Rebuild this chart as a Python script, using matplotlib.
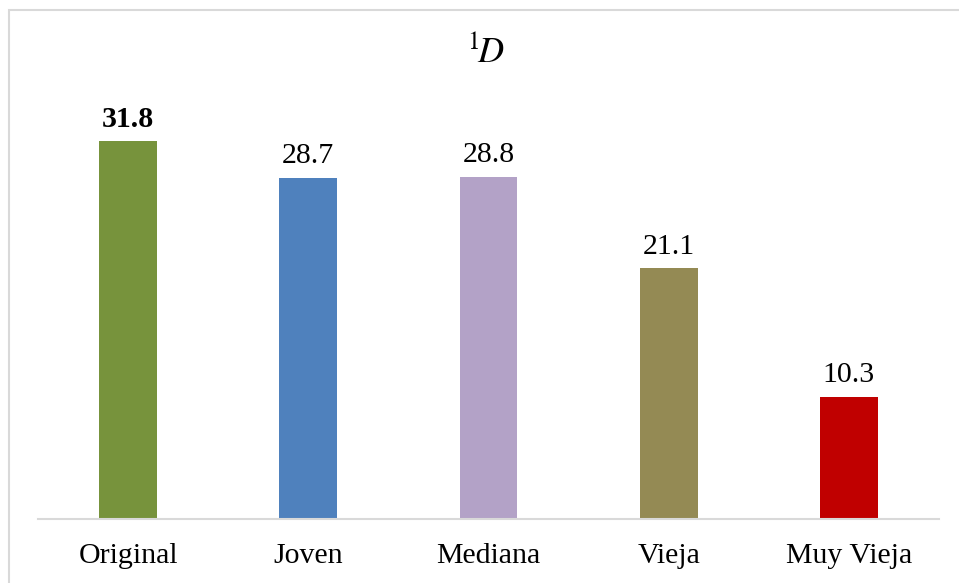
import matplotlib.pyplot as plt
from matplotlib.patches import Rectangle

categories = ['Original', 'Joven', 'Mediana', 'Vieja', 'Muy Vieja']
values = [31.8, 28.7, 28.8, 21.1, 10.3]
colors = ['#77933c', '#4f81bd', '#b3a2c7', '#948a54', '#c00000']

plt.rcParams['font.family'] = ['Liberation Serif', 'DejaVu Serif']

W, H = 959, 583
fig = plt.figure(figsize=(W / 100, H / 100), dpi=100)

# light grey frame around the chart area
fig.add_artist(Rectangle((9 / W, -0.05), 1.2, 1 - 10 / H + 0.05,
                         transform=fig.transFigure, fill=False,
                         edgecolor='#d9d9d9', linewidth=1.5))

ax = fig.add_axes([38 / W, (H - 519) / H, (939 - 38) / W, (519 - 91) / H])
x = range(len(categories))
ax.bar(x, values, width=0.32, color=colors)
ax.set_xlim(-0.5, len(categories) - 0.5)
ax.set_ylim(0, 36)

for i, v in enumerate(values):
    ax.text(i, v + 0.7, f'{v:.1f}', ha='center', va='bottom', fontsize=21.5,
            fontweight='bold' if i == 0 else 'normal')

ax.set_xticks(list(x))
ax.set_xticklabels(categories, fontsize=21.5)
ax.tick_params(axis='x', length=0, pad=17)
ax.set_yticks([])
for side in ['top', 'right', 'left']:
    ax.spines[side].set_visible(False)
ax.spines['bottom'].set_color('#d9d9d9')
ax.spines['bottom'].set_linewidth(1.5)

fig.text(486 / W, 1 - 53 / H, r'$^{1}\!\mathit{D}$', ha='center', va='center',
         fontsize=26, math_fontfamily='stix')

fig.savefig('out.png', dpi=100)
